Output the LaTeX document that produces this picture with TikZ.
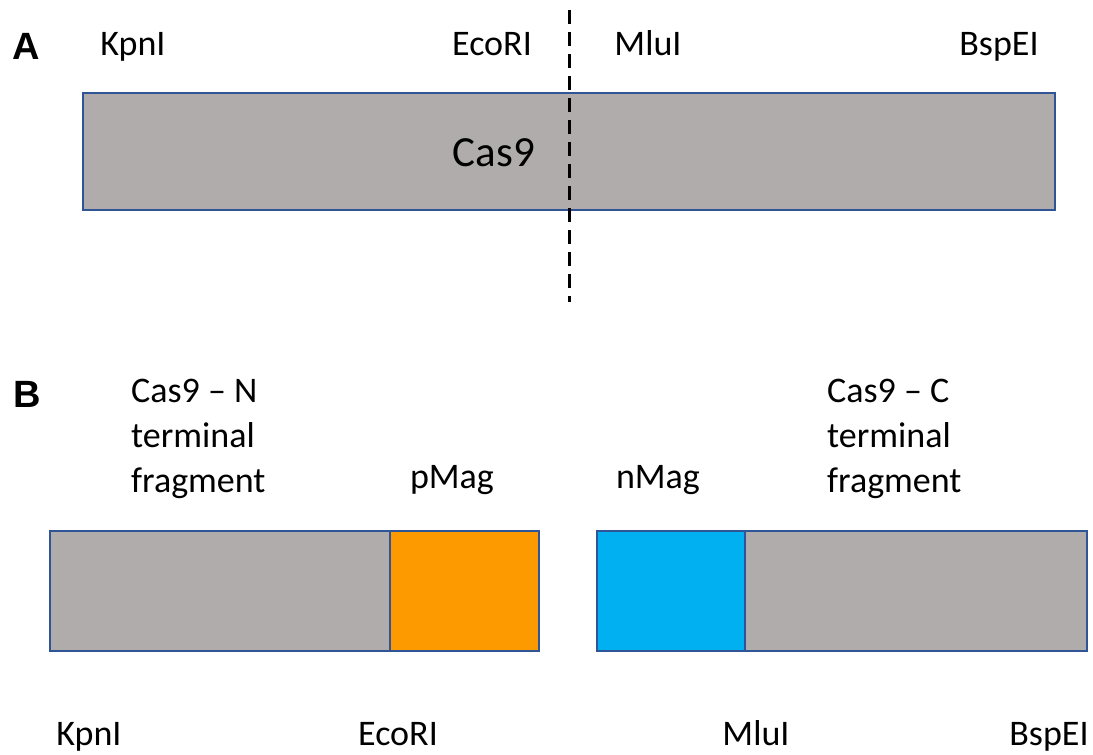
\documentclass[tikz,border=0pt]{standalone}
\usepackage{fontspec}
\setmainfont{Carlito}
\newfontfamily\panelfont{Liberation Sans}
\definecolor{boxgray}{HTML}{AFACAB}
\definecolor{boxedge}{HTML}{2F5597}
\definecolor{pmag}{HTML}{FD9A00}
\definecolor{nmag}{HTML}{00B0F0}
\tikzset{
  lbl/.style={inner sep=0pt, anchor=base, font=\fontsize{36}{42}\selectfont},
  lblw/.style={inner sep=0pt, anchor=base west, font=\fontsize{36}{42}\selectfont},
  panel/.style={inner sep=0pt, anchor=base, font=\panelfont\bfseries\fontsize{38}{42}\selectfont},
  seg/.style={draw=boxedge, line width=1.5pt},
  cut/.style={line width=3pt, dash pattern=on 14pt off 8pt}
}
\begin{document}
\begin{tikzpicture}[x=1pt,y=-1pt]
\useasboundingbox (0,0) rectangle (1093,755);
% Panel A
\node[panel] (A) at (26,59) {A};
\node[lbl] (kpn1) at (133,55) {KpnI};
\node[lbl] (eco1) at (492,55) {EcoRI};
\node[lbl] (mlu1) at (648,55) {MluI};
\node[lbl] (bsp1) at (999,55) {BspEI};
\filldraw[seg, fill=boxgray] (83,93) rectangle (1055,210);
\node[lbl, font=\fontsize{43}{50}\selectfont] (cas9) at (494,166) {Cas9};
\coordinate (cuttop) at (569,10);
\coordinate (cutbot) at (569,302);
\draw[cut] (cuttop) -- (cutbot);
% Panel B
\node[panel] (B) at (27,407) {B};
\node[lblw] (n1) at (131,402) {Cas9 – N};
\node[lblw] (n2) at (131,447) {terminal};
\node[lblw] (n3) at (131,492) {fragment};
\node[lbl] (pmag) at (452,488) {pMag};
\node[lbl] (nmag) at (658,488) {nMag};
\node[lblw] (c1) at (827,402) {Cas9 – C};
\node[lblw] (c2) at (827,447) {terminal};
\node[lblw] (c3) at (827,492) {fragment};
\filldraw[seg, fill=boxgray] (50,531) rectangle (390,651);
\filldraw[seg, fill=pmag] (390,531) rectangle (539,651);
\filldraw[seg, fill=nmag] (597,531) rectangle (745,651);
\filldraw[seg, fill=boxgray] (745,531) rectangle (1087,651);
\node[lbl] (kpn2) at (89,745) {KpnI};
\node[lbl] (eco2) at (398,745) {EcoRI};
\node[lbl] (mlu2) at (756,745) {MluI};
\node[lbl] (bsp2) at (1049,745) {BspEI};
\end{tikzpicture}
\end{document}
